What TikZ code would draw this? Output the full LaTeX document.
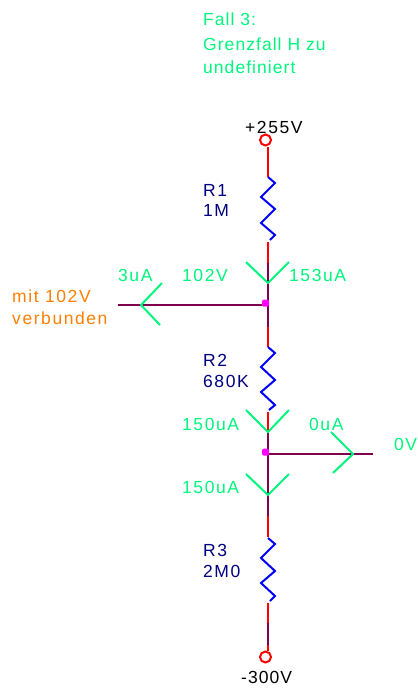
\documentclass[tikz,border=0pt]{standalone}
\usepackage{fontspec}
\setmainfont{Liberation Sans}
\newfontfamily\spcd{Liberation Sans}[LetterSpace=9]
\newfontfamily\spce{Liberation Sans}[LetterSpace=6]
\definecolor{wred}{RGB}{255,0,0}
\definecolor{wpur}{RGB}{128,0,80}
\definecolor{zblue}{RGB}{0,0,255}
\definecolor{lgreen}{RGB}{0,245,125}
\definecolor{navy}{RGB}{0,0,128}
\definecolor{orng}{RGB}{255,128,0}
\definecolor{jmag}{RGB}{255,0,255}
\tikzset{x=1pt,y=-1pt,
 wirer/.style={draw=wred,line width=2pt},
 wirep/.style={draw=wpur,line width=2pt},
 zig/.style={draw=zblue,line width=2pt},
 flow/.style={draw=lgreen,line width=2pt},
 term/.style={circle,draw=wred,line width=2pt,minimum size=11pt,inner sep=0pt},
 junc/.style={fill=jmag,minimum size=7pt,inner sep=0pt,rounded corners=1.5pt},
 lab/.style={font=\spcd\fontsize{17.5}{17.5}\selectfont,anchor=base west,inner sep=0pt},
 labt/.style={lab,font=\spce\fontsize{17.5}{17.5}\selectfont}}
\begin{document}
\begin{tikzpicture}
\useasboundingbox (0,0) rectangle (418,689);
\node[labt,text=lgreen] (t1) at (203,25) {Fall 3:};
\node[labt,text=lgreen] (t2) at (203,50) {Grenzfall H zu};
\node[labt,text=lgreen] (t3) at (203,73) {undefiniert};
\node[lab,text=black] (v1) at (245,133) {+255V};
\node[lab,text=navy] (r1a) at (203,196) {R1};
\node[lab,text=navy] (r1b) at (203,216) {1M};
\node[lab,text=lgreen] (i1) at (118,281) {3uA};
\node[lab,text=lgreen] (u1) at (182,281) {102V};
\node[lab,text=lgreen] (i2) at (289,281) {153uA};
\node[lab,text=orng] (o1) at (12,302) {mit 102V};
\node[lab,text=orng] (o2) at (12,324) {verbunden};
\node[lab,text=navy] (r2a) at (203,366) {R2};
\node[lab,text=navy] (r2b) at (203,387) {680K};
\node[lab,text=lgreen] (i3) at (182,430) {150uA};
\node[lab,text=lgreen] (i4) at (309,430) {0uA};
\node[lab,text=lgreen] (v0) at (394,450) {0V};
\node[lab,text=lgreen] (i5) at (182,493) {150uA};
\node[lab,text=navy] (r3a) at (203,556) {R3};
\node[lab,text=navy] (r3b) at (203,577) {2M0};
\node[labt,text=black] (v2) at (241,683) {-300V};
\node[term] (top) at (265.5,140) {};
\node[term] (bot) at (265.5,657) {};
\coordinate (lw) at (118,305);
\coordinate (rw) at (373,454);
\coordinate (ax) at (268,0);
% wires
\path[wirer] (top.south -| ax) -- (268,177);
\path[wirer] (268,242) -- (268,263);
\path[wirep] (268,263) -- (268,327);
\path[wirer] (268,327) -- (268,347);
\path[wirer] (268,412) -- (268,432);
\path[wirep] (268,432) -- (268,516);
\path[wirer] (268,516) -- (268,537);
\path[wirer] (268,603) -- (268,623);
\path[wirep] (268,623) -- (268,645);
\path[wirer] (268,645) -- (bot.north -| ax);
\coordinate (j1c) at (265.5,303);
\coordinate (j2c) at (265.5,452);
\path[wirep] (lw) -- (lw -| j1c);
\path[wirep] (rw -| j2c) -- (rw);
\node[junc] (j1) at (j1c) {};
\node[junc] (j2) at (j2c) {};
% resistors
\path[zig] (268,177) -- (275,183) -- (261,197) -- (275,209) -- (261,223) -- (275,235) -- (270,240);
\path[zig] (268,347) -- (275,353) -- (261,367) -- (275,380) -- (261,392) -- (275,405) -- (269,410);
\path[zig] (268,538) -- (275,544) -- (261,558) -- (275,571) -- (261,583) -- (275,596) -- (270,601);
% current arrows
\path[flow] (246,262) -- (268,283) -- (289,262);
\path[flow] (162,283) -- (141,305) -- (160,325);
\path[flow] (246,410) -- (268,432) -- (289,410);
\path[flow] (246,474) -- (268,495) -- (289,474);
\path[flow] (331,432) -- (353,454) -- (333,473);
\end{tikzpicture}
\end{document}
